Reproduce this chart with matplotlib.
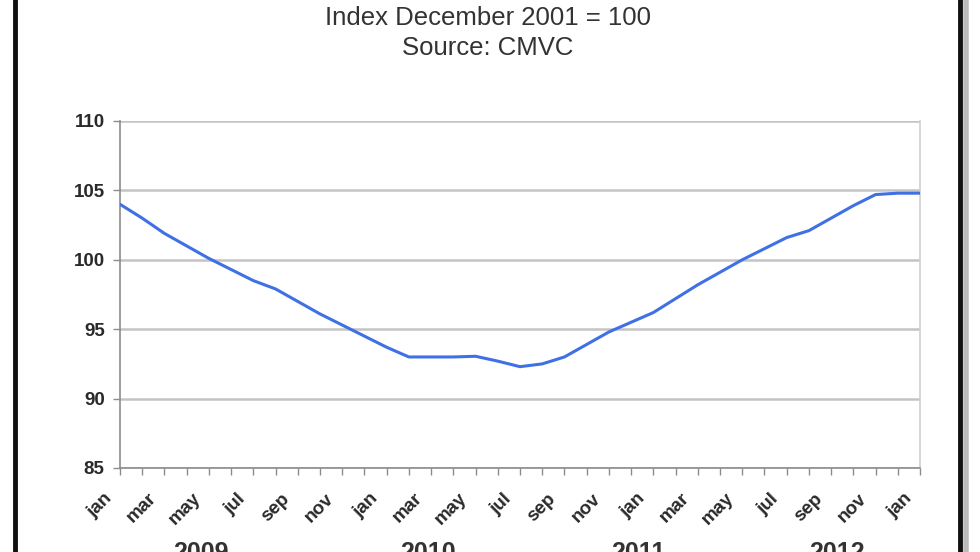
import matplotlib
matplotlib.use("Agg")
import matplotlib.pyplot as plt
from matplotlib.lines import Line2D
from matplotlib.transforms import ScaledTranslation, blended_transform_factory

# ---- data ----
month_names = ['jan', 'feb', 'mar', 'apr', 'may', 'jun',
               'jul', 'aug', 'sep', 'oct', 'nov', 'dec']
years = ['2009', '2010', '2011', '2012']
# monthly index, jan 2009 .. jan 2012
index_values = [104.0, 103.0, 101.9, 101.0, 100.1, 99.3, 98.5, 97.9, 97.0,
                96.1, 95.3, 94.5, 93.7, 93.0, 93.0, 93.0, 93.05, 92.7, 92.3,
                92.5, 93.0, 93.9, 94.8, 95.5, 96.2, 97.2, 98.2, 99.1, 100.0,
                100.8, 101.6, 102.1, 103.0, 103.9, 104.7, 104.8, 104.8]
y_ticks = [85, 90, 95, 100, 105, 110]
title_lines = ['Index December 2001 = 100', 'Source: CMVC']

plt.rcParams['font.family'] = ['Liberation Sans', 'DejaVu Sans']

W, H = 980, 552
fig = plt.figure(figsize=(W / 100, H / 100), dpi=100)
fig.patch.set_facecolor('white')

ax = fig.add_axes([120 / W, 1 - 468 / H, 800 / W, (468 - 121) / H])

n = len(index_values)
xs = list(range(n))
ax.plot(xs, index_values, color='#4070E6', linewidth=2.2, solid_capstyle='round', zorder=3)

ax.set_xlim(0, n - 1)
ax.set_ylim(min(y_ticks), max(y_ticks))
ax.set_yticks(y_ticks)
ax.set_yticklabels([str(v) for v in y_ticks], fontsize=13.5, color='#2a2a2a',
                   fontweight='semibold')
ax.yaxis.grid(True, color='#C4C4C4', linewidth=1.8, zorder=0)
ax.set_axisbelow(True)

ax.set_xticks(xs)
ax.set_xticklabels([])

# month labels, rotated, placed like the original (left of their tick)
base = blended_transform_factory(ax.transData, ax.transAxes)
shift = ScaledTranslation(-17 / 100, -22 / 100, fig.dpi_scale_trans)
for i in xs:
    if i % 2 == 0:
        ax.text(i, 0, month_names[i % 12], transform=base + shift,
                rotation=45, ha='right', va='top', rotation_mode='anchor',
                fontsize=13.5, color='#2a2a2a', fontweight='semibold',
                clip_on=False)

for s in ['left', 'bottom', 'right', 'top']:
    ax.spines[s].set_color('#8C8C8C')
    ax.spines[s].set_linewidth(1.2)
ax.spines['top'].set_visible(False)
ax.spines['right'].set_color('#D0D0D0')
ax.tick_params(axis='both', direction='out', length=5, width=1, color='#8C8C8C')
ax.tick_params(axis='y', pad=6)

# titles
fig.text(488 / W, 1 - 18 / H, title_lines[0], ha='center', va='center',
         fontsize=18.5, color='#333333')
fig.text(488 / W, 1 - 48 / H, title_lines[1], ha='center', va='center',
         fontsize=18.5, color='#333333')

# year labels (cut at bottom edge, as in the screenshot)
year_x = [201, 428, 638, 837]
for yx, yl in zip(year_x, years):
    fig.text(yx / W, 1 - 541 / H, yl, ha='center', va='top',
             fontsize=18, color='#333333', fontweight='bold')

# frame lines of the screenshot
fig.add_artist(Line2D([15 / W, 15 / W], [0, 1], transform=fig.transFigure,
                      color='#111111', linewidth=3.5))
fig.add_artist(Line2D([966 / W, 966 / W], [0, 1], transform=fig.transFigure,
                      color='#BBBBBB', linewidth=4))
fig.add_artist(Line2D([960 / W, 960 / W], [0, 1], transform=fig.transFigure,
                      color='#111111', linewidth=3.5))

fig.savefig('out.png', dpi=100)
